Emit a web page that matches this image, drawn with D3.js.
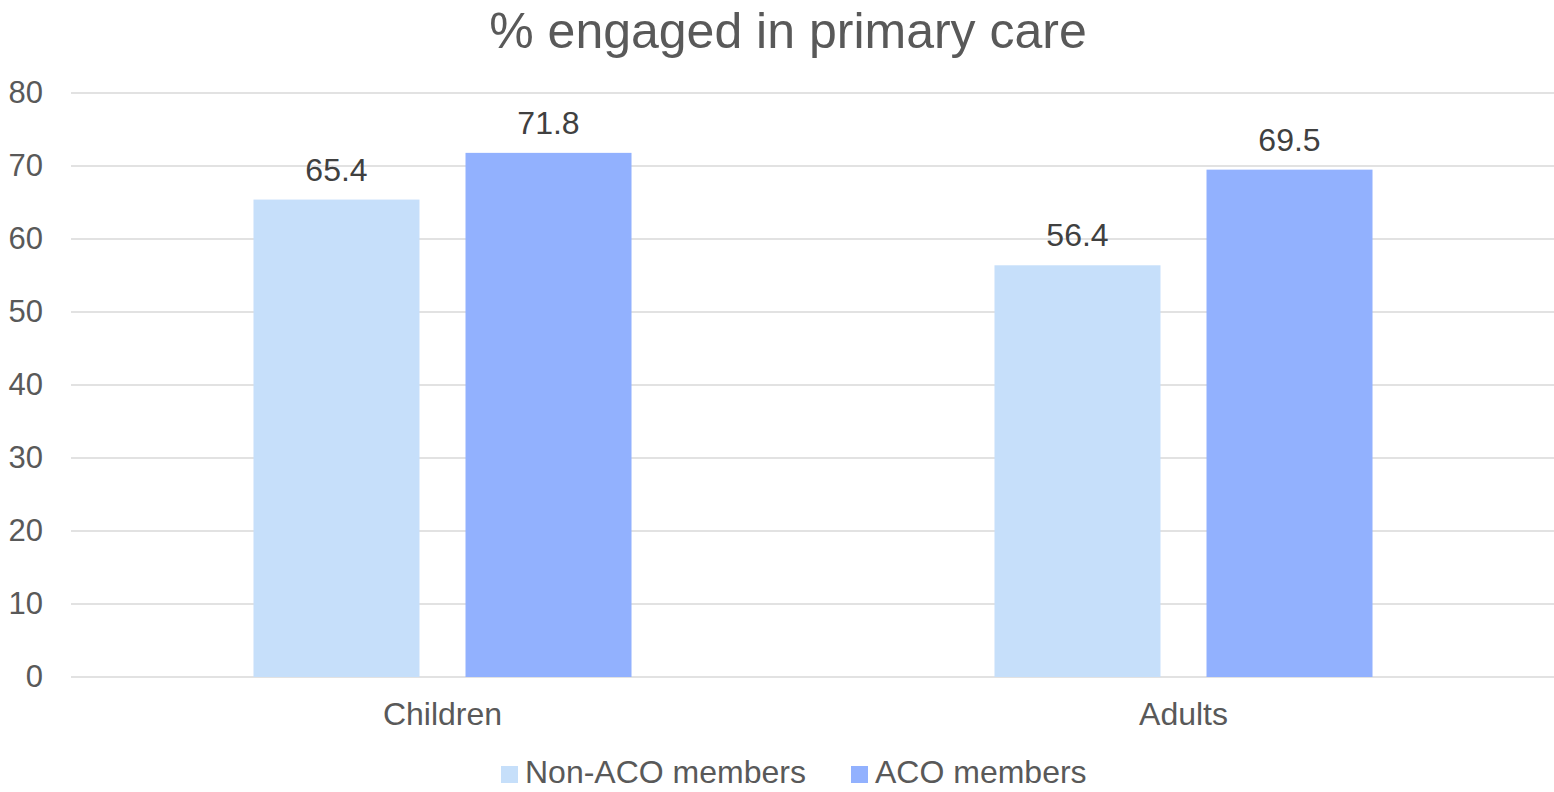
<html>
<head>
<style>
  body { margin: 0; background: #fff; }
  text { font-family: "Liberation Sans", Arial, sans-serif; }
</style>
</head>
<body>
<svg id="chart" width="1554" height="792"></svg>
<script src="https://cdn.jsdelivr.net/npm/d3@7"></script>
<script>
const categories = ["Children", "Adults"]
const seriesNames = ["Non-ACO members", "ACO members"]
const nonAco = [65.4, 56.4]
const aco = [71.8, 69.5]
const yTicks = [0, 10, 20, 30, 40, 50, 60, 70, 80]
const colors = ["#C6DFFA", "#92B1FE"]

let svg = d3.select("#chart")
let plotLeft = 72, plotRight = 1554, plotTop = 93, plotBottom = 677

let x = d3.scaleBand().domain(categories).range([plotLeft, plotRight])
let xInner = d3.scaleBand().domain(seriesNames)
  .range([0, x.bandwidth()]).paddingInner(0.217).paddingOuter(0.856)
let y = d3.scaleLinear().domain([0, 80]).range([plotBottom, plotTop])

// title
svg.append("text")
  .attr("x", 788).attr("y", 48)
  .attr("text-anchor", "middle")
  .attr("font-size", 50)
  .attr("fill", "#595959")
  .text("% engaged in primary care")

// gridlines
svg.append("g").selectAll("line").data(yTicks)
  .enter().append("line")
  .attr("x1", plotLeft - 1).attr("x2", plotRight)
  .attr("y1", d => y(d)).attr("y2", d => y(d))
  .attr("stroke", "#d9d9d9").attr("stroke-width", 1.5)

// y axis labels
svg.append("g").selectAll("text").data(yTicks)
  .enter().append("text")
  .attr("x", 43).attr("y", d => y(d) + 10)
  .attr("text-anchor", "end")
  .attr("font-size", 31)
  .attr("fill", "#595959")
  .text(d => d)

let rows = categories.map((c, i) => ({cat: c, values: [nonAco[i], aco[i]]}))

let groups = svg.append("g").selectAll("g").data(rows)
  .enter().append("g")
  .attr("transform", d => `translate(${x(d.cat)},0)`)

groups.selectAll("rect")
  .data(d => d.values.map((v, j) => ({name: seriesNames[j], v, j})))
  .enter().append("rect")
  .attr("x", d => xInner(d.name))
  .attr("width", xInner.bandwidth())
  .attr("y", d => y(d.v))
  .attr("height", d => y(0) - y(d.v))
  .attr("fill", d => colors[d.j])

groups.selectAll("text.lbl")
  .data(d => d.values.map((v, j) => ({name: seriesNames[j], v, j})))
  .enter().append("text")
  .attr("class", "lbl")
  .attr("x", d => xInner(d.name) + xInner.bandwidth() / 2)
  .attr("y", d => y(d.v) - 19)
  .attr("text-anchor", "middle")
  .attr("font-size", 32)
  .attr("fill", "#404040")
  .text(d => d.v.toFixed(1))

// x axis labels
svg.append("g").selectAll("text").data(categories)
  .enter().append("text")
  .attr("x", d => x(d) + x.bandwidth() / 2)
  .attr("y", 725)
  .attr("text-anchor", "middle")
  .attr("font-size", 32)
  .attr("fill", "#595959")
  .text(d => d)

// legend
let legendX = [501, 851]
let legend = svg.append("g").selectAll("g").data(seriesNames)
  .enter().append("g")
  .attr("transform", (d, i) => `translate(${legendX[i]},766)`)
legend.append("rect")
  .attr("width", 17).attr("height", 17)
  .attr("fill", (d, i) => colors[i])
legend.append("text")
  .attr("x", 24).attr("y", 17)
  .attr("font-size", 32)
  .attr("fill", "#595959")
  .text(d => d)
</script>
</body>
</html>
